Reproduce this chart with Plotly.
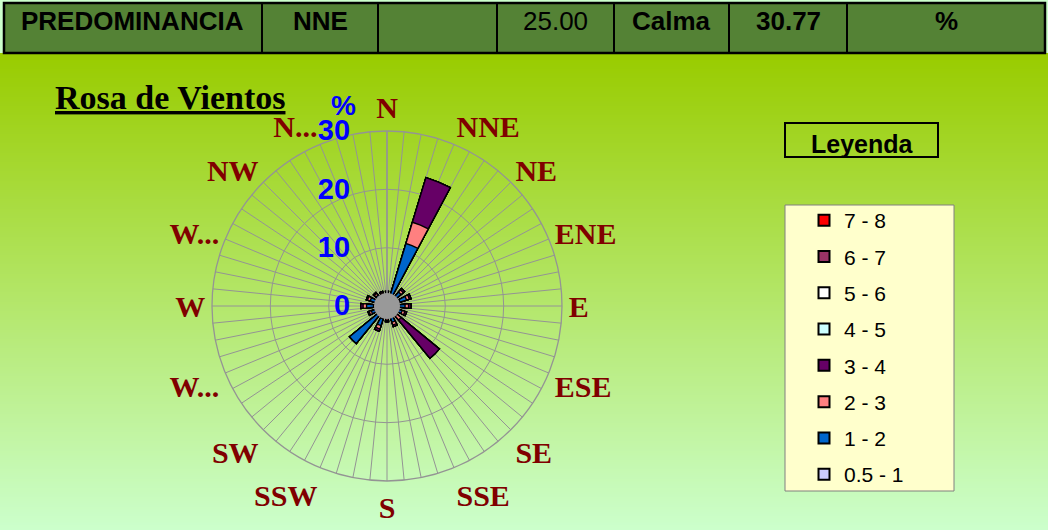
import base64
import struct
import zlib

import plotly.graph_objects as go

# ---------------------------------------------------------------- data
directions = ["N", "NNE", "NE", "ENE", "E", "ESE", "SE", "SSE",
              "S", "SSW", "SW", "WSW", "W", "WNW", "NW", "NNW"]
direction_labels = ["N", "NNE", "NE", "ENE", "E", "ESE", "SE", "SSE",
                    "S", "SSW", "SW", "W...", "W", "W...", "NW", "N..."]

# frequency (%) per direction for each wind-speed class (m/s)
freq_05_1 = [1.4, 1.0, 2.1, 2.3, 2.1, 1.9, 1.2, 2.0, 1.6, 2.3, 2.0, 1.9, 2.3, 2.0, 1.7, 1.5]
freq_1_2 = [0.6, 10.2, 1.0, 1.2, 1.0, 0.8, 1.0, 0.9, 0.6, 1.2, 6.3, 0.9, 1.2, 1.0, 0.7, 0.6]
freq_2_3 = [0.3, 3.8, 0.5, 0.5, 0.6, 0.5, 0.9, 0.5, 0.3, 0.6, 0.0, 0.4, 0.6, 0.5, 0.4, 0.3]
freq_3_4 = [0.2, 8.0, 0.3, 0.3, 0.4, 0.3, 8.5, 0.3, 0.2, 0.4, 0.0, 0.2, 0.4, 0.2, 0.2, 0.2]
freq_4_5 = [0.0, 0.0, 0.0, 0.0, 0.0, 0.0, 0.0, 0.0, 0.0, 0.0, 0.0, 0.0, 0.0, 0.0, 0.0, 0.0]
freq_5_6 = [0.0, 0.0, 0.0, 0.0, 0.0, 0.0, 0.0, 0.0, 0.0, 0.0, 0.0, 0.0, 0.0, 0.0, 0.0, 0.0]
freq_6_7 = [0.0, 0.0, 0.0, 0.0, 0.0, 0.0, 0.0, 0.0, 0.0, 0.0, 0.0, 0.0, 0.0, 0.0, 0.0, 0.0]
freq_7_8 = [0.0, 0.0, 0.0, 0.0, 0.0, 0.0, 0.0, 0.0, 0.0, 0.0, 0.0, 0.0, 0.0, 0.0, 0.0, 0.0]

speed_classes = ["0.5 - 1", "1 - 2", "2 - 3", "3 - 4", "4 - 5", "5 - 6", "6 - 7", "7 - 8"]
class_freqs = [freq_05_1, freq_1_2, freq_2_3, freq_3_4, freq_4_5, freq_5_6, freq_6_7, freq_7_8]
class_colors = ["#CCCCFF", "#0066CC", "#FF8080", "#660066",
                "#CCFFFF", "#FFFFFF", "#993366", "#FF0000"]

predominant_dir = "NNE"
predominant_value = "25.00"
calm_pct = "30.77"

radial_ticks = [0, 10, 20, 30]

# ---------------------------------------------------------------- geometry helpers
W, H = 1048, 530


def px(x):
    return x / W


def py(y):
    return 1 - y / H


SPOKES_PER_DIR = 4
n_spokes = len(directions) * SPOKES_PER_DIR
spoke_step = 360 / n_spokes
spoke_angles = [i * spoke_step for i in range(n_spokes)]
spoke_text = [direction_labels[i // SPOKES_PER_DIR] if i % SPOKES_PER_DIR == 0 else ""
              for i in range(n_spokes)]


def spoke_values(per_dir):
    """Spread one value per direction onto the three spokes around it
    (the fourth spoke between directions drops back to zero)."""
    out = []
    for i in range(n_spokes):
        m = i % SPOKES_PER_DIR
        if m == 2:
            out.append(0.0)
        else:
            d = ((i + 1) // SPOKES_PER_DIR) % len(directions)
            out.append(per_dir[d])
    return out


# cumulative (stacked) totals per class
cumulative = []
running = [0.0] * len(directions)
for vals in class_freqs:
    running = [a + b for a, b in zip(running, vals)]
    cumulative.append(list(running))

fig = go.Figure()

# largest stack first so the inner classes are painted on top
for k in reversed(range(len(speed_classes))):
    r = spoke_values(cumulative[k])
    fig.add_trace(go.Scatterpolar(
        r=r + [r[0]], theta=spoke_angles + [spoke_angles[0]],
        mode="lines", fill="toself", fillcolor=class_colors[k],
        line=dict(color="#000000", width=1.4),
        legendgroup=speed_classes[k], showlegend=False, hoverinfo="skip",
    ))
    fig.add_trace(go.Scatterpolar(
        r=[None], theta=[None], mode="markers", name=speed_classes[k],
        marker=dict(symbol="square", size=11, color=class_colors[k],
                    line=dict(color="#000000", width=2)),
        legendgroup=speed_classes[k], showlegend=True,
    ))

# ---------------------------------------------------------------- background gradient
def gradient_png(top, bottom, rows=256):
    raw = b""
    for i in range(rows):
        t = i / (rows - 1)
        c = bytes(int(round(a + (b - a) * t)) for a, b in zip(top, bottom))
        raw += b"\x00" + c
    def chunk(tag, data):
        return (struct.pack(">I", len(data)) + tag + data
                + struct.pack(">I", zlib.crc32(tag + data) & 0xFFFFFFFF))
    png = (b"\x89PNG\r\n\x1a\n"
           + chunk(b"IHDR", struct.pack(">IIBBBBB", 1, rows, 8, 2, 0, 0, 0))
           + chunk(b"IDAT", zlib.compress(raw))
           + chunk(b"IEND", b""))
    return "data:image/png;base64," + base64.b64encode(png).decode()


bg_top = (0x99, 0xCC, 0x00)
bg_bottom = (0xCC, 0xFF, 0xCC)
images = [dict(source=gradient_png(bg_top, bg_bottom), xref="paper", yref="paper",
               x=0, y=py(53), sizex=1, sizey=(H - 53) / H, xanchor="left",
               yanchor="top", sizing="stretch", layer="below")]

# ---------------------------------------------------------------- header strip
shapes = []
annotations = []
cell_edges = [4, 262, 378, 497, 614, 729, 847, 1045]
shapes.append(dict(type="rect", xref="paper", yref="paper",
                   x0=px(cell_edges[0]), x1=px(cell_edges[-1]), y0=py(53), y1=py(3),
                   fillcolor="#548235", line=dict(color="#000000", width=2.5),
                   layer="above"))
for xe in cell_edges[1:-1]:
    shapes.append(dict(type="line", xref="paper", yref="paper",
                       x0=px(xe), x1=px(xe), y0=py(53), y1=py(3),
                       line=dict(color="#000000", width=2), layer="above"))

header_cells = [("<b>PREDOMINANCIA</b>", "left"), (f"<b>{predominant_dir}</b>", "center"),
                ("", "center"), (predominant_value, "center"), ("<b>Calma</b>", "center"),
                (f"<b>{calm_pct}</b>", "center"), ("<b>%</b>", "center")]
for i, (txt, align) in enumerate(header_cells):
    if not txt:
        continue
    x0, x1 = cell_edges[i], cell_edges[i + 1]
    if align == "left":
        xpos, anchor = px(x0 + 15), "left"
    else:
        xpos, anchor = px((x0 + x1) / 2), "center"
    annotations.append(dict(text=txt, x=xpos, xanchor=anchor, y=py(21),
                            yanchor="middle", xref="paper", yref="paper",
                            showarrow=False,
                            font=dict(family="Liberation Sans", size=26, color="#000000")))

# ---------------------------------------------------------------- titles
annotations.append(dict(text="<b><u>Rosa de Vientos</u></b>", x=px(53), xanchor="left",
                        y=py(98), yanchor="middle", xref="paper", yref="paper",
                        showarrow=False,
                        font=dict(family="Liberation Serif", size=34, color="#000000")))
annotations.append(dict(text="<b>%</b>", x=px(343), xanchor="center", y=py(106),
                        yanchor="middle", xref="paper", yref="paper", showarrow=False,
                        font=dict(family="Liberation Sans", size=28, color="#0000FF")))

# legend heading box and legend frame
shapes.append(dict(type="rect", xref="paper", yref="paper",
                   x0=px(785), x1=px(938), y0=py(157), y1=py(123),
                   fillcolor="rgba(0,0,0,0)", line=dict(color="#000000", width=2)))
annotations.append(dict(text="<b>Leyenda</b>", x=px(862), xanchor="center", y=py(144),
                        yanchor="middle", xref="paper", yref="paper", showarrow=False,
                        font=dict(family="Liberation Sans", size=25, color="#000000")))
shapes.append(dict(type="rect", xref="paper", yref="paper",
                   x0=px(785), x1=px(954), y0=py(491), y1=py(205),
                   fillcolor="#FFFFCC", line=dict(color="#808080", width=1),
                   layer="below"))

# ---------------------------------------------------------------- layout
cx, cy, R = 387, 306, 175
# hub where the 64 grid spokes merge into solid grey
hub = 13
shapes.append(dict(type="circle", xref="paper", yref="paper",
                   x0=px(cx - hub), x1=px(cx + hub), y0=py(cy + hub), y1=py(cy - hub),
                   fillcolor="#999999", line=dict(width=0), layer="above"))

fig.update_layout(
    width=W, height=H,
    margin=dict(l=0, r=0, t=0, b=0),
    paper_bgcolor="#CCFFCC",
    images=images,
    shapes=shapes,
    annotations=annotations,
    showlegend=True,
    legend=dict(x=px(804), y=py(200), xanchor="left", yanchor="top",
                bgcolor="rgba(0,0,0,0)", borderwidth=0, tracegroupgap=6,
                traceorder="grouped",
                font=dict(family="Liberation Sans", size=21, color="#000000")),
    polar=dict(
        domain=dict(x=[px(cx - R), px(cx + R)], y=[py(cy + R), py(cy - R)]),
        bgcolor="rgba(0,0,0,0)",
        angularaxis=dict(
            direction="clockwise", rotation=90, thetaunit="degrees",
            tickmode="array", tickvals=spoke_angles, ticktext=spoke_text,
            showgrid=True, gridcolor="#949494", gridwidth=1,
            showline=True, linecolor="#949494", linewidth=1.3,
            ticks="", layer="above traces",
            tickfont=dict(family="Liberation Serif", size=30, color="#800000",
                          weight="bold"),
        ),
        radialaxis=dict(
            range=[0, 30], tickmode="array", tickvals=radial_ticks,
            showgrid=True, gridcolor="#949494", gridwidth=1,
            showline=True, linecolor="#949494", linewidth=1.5,
            angle=90, side="counterclockwise", tickangle=90,
            ticks="outside", ticklen=26, tickcolor="rgba(0,0,0,0)",
            layer="above traces",
            tickfont=dict(family="Liberation Sans", size=29, color="#0000FF",
                          weight="bold"),
        ),
    ),
)

fig.write_html("out.html")
